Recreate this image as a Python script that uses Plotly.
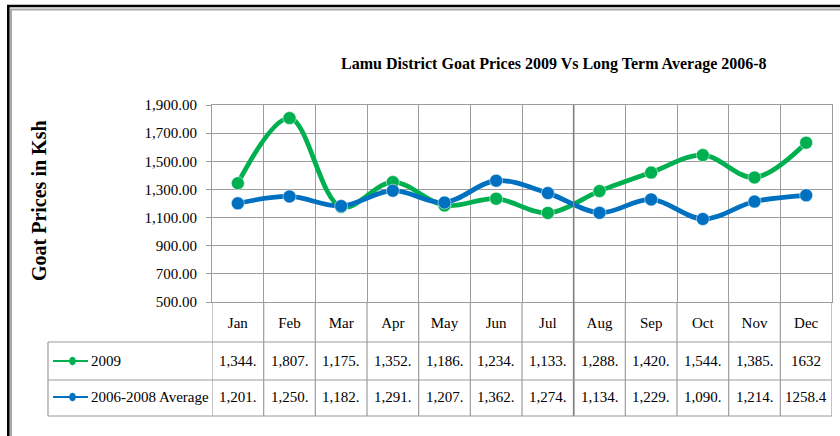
import plotly.graph_objects as go

# ---------------- data ----------------
months = ["Jan", "Feb", "Mar", "Apr", "May", "Jun",
          "Jul", "Aug", "Sep", "Oct", "Nov", "Dec"]
prices_2009 = [1344, 1807, 1175, 1352, 1186, 1234,
               1133, 1288, 1420, 1544, 1385, 1632]
prices_avg = [1201, 1250, 1182, 1291, 1207, 1362,
              1274, 1134, 1229, 1090, 1214, 1258.4]
labels_2009 = ["1,344.", "1,807.", "1,175.", "1,352.", "1,186.", "1,234.",
               "1,133.", "1,288.", "1,420.", "1,544.", "1,385.", "1632"]
labels_avg = ["1,201.", "1,250.", "1,182.", "1,291.", "1,207.", "1,362.",
              "1,274.", "1,134.", "1,229.", "1,090.", "1,214.", "1258.4"]
series_names = ["2009", "2006-2008 Average"]
y_ticks = [500, 700, 900, 1100, 1300, 1500, 1700, 1900]
chart_title = "Lamu District Goat Prices 2009 Vs Long Term Average 2006-8"
y_title = "Goat Prices in Ksh"

# ---------------- styling ----------------
GREEN = "#00B050"
BLUE = "#0070C0"
GRID = "#9c9c9c"
FONT = "Liberation Serif"
W, H = 840, 436
L, R, T, B = 212, 832, 105, 302  # plot area in pixels


def px(x):
    return (x - L) / (R - L)


def py(y):
    return (B - y) / (B - T)


fig = go.Figure()
for name, vals, col in [(series_names[0], prices_2009, GREEN),
                        (series_names[1], prices_avg, BLUE)]:
    fig.add_trace(go.Scatter(
        x=months, y=vals, name=name, mode="lines+markers",
        line=dict(color=col, width=4.8, shape="spline", smoothing=1),
        marker=dict(size=13, color=col, line=dict(width=1, color="rgba(255,255,255,0.5)")),
        cliponaxis=False, showlegend=False,
    ))

shapes = []
line_style = dict(color=GRID, width=1.2)
# table vertical lines (continuing category boundaries)
for k in range(len(months) + 1):
    shapes.append(dict(type="line", xref="x", yref="paper",
                       x0=k - 0.5, x1=k - 0.5, y0=0, y1=py(416),
                       line=line_style, layer="above"))
# darker boundary Jul|Aug
shapes.append(dict(type="line", xref="x", yref="paper", x0=6.5, x1=6.5,
                   y0=1, y1=py(416), line=dict(color="#808080", width=1.6)))
# table horizontal lines
for yy in [342, 380, 416]:
    shapes.append(dict(type="line", xref="paper", yref="paper",
                       x0=px(48), x1=1, y0=py(yy), y1=py(yy), line=line_style))
shapes.append(dict(type="line", xref="paper", yref="paper",
                   x0=px(48), x1=px(48), y0=py(342), y1=py(416), line=line_style))

# legend keys inside the table
for yy, col in [(361, GREEN), (397, BLUE)]:
    shapes.append(dict(type="line", xref="paper", yref="paper",
                       x0=px(53), x1=px(88), y0=py(yy), y1=py(yy),
                       line=dict(color=col, width=2.2)))
    shapes.append(dict(type="circle", xref="paper", yref="paper",
                       x0=px(69.5), x1=px(75.5), y0=py(yy - 4), y1=py(yy + 4),
                       fillcolor=col, line=dict(color=col, width=0.5)))

# outer frame (double border)
shapes += [
    dict(type="line", xref="paper", yref="paper", x0=px(7), x1=px(840),
         y0=py(6), y1=py(6), line=dict(color="black", width=2.6)),
    dict(type="line", xref="paper", yref="paper", x0=px(8.3), x1=px(8.3),
         y0=py(5), y1=py(436), line=dict(color="black", width=2.6)),
    dict(type="line", xref="paper", yref="paper", x0=px(10), x1=px(840),
         y0=py(9.5), y1=py(9.5), line=dict(color="#a8a8a8", width=2)),
    dict(type="line", xref="paper", yref="paper", x0=px(11), x1=px(11),
         y0=py(9), y1=py(436), line=dict(color="#a8a8a8", width=2)),
]

annotations = []
tfont = dict(family=FONT, size=15, color="black")
for i in range(len(months)):
    annotations.append(dict(x=months[i], xref="x", y=py(361), yref="paper",
                            text=labels_2009[i], showarrow=False, font=tfont,
                            xanchor="center", yanchor="middle"))
    annotations.append(dict(x=months[i], xref="x", y=py(397), yref="paper",
                            text=labels_avg[i], showarrow=False, font=tfont,
                            xanchor="center", yanchor="middle"))
for yy, name in [(361, series_names[0]), (397, series_names[1])]:
    annotations.append(dict(x=px(89), xref="paper", y=py(yy), yref="paper",
                            text=name, showarrow=False, font=tfont,
                            xanchor="left", yanchor="middle"))
annotations.append(dict(x=px(554), xref="paper", y=py(64), yref="paper",
                        text="<b>" + chart_title + "</b>", showarrow=False,
                        font=dict(family=FONT, size=16, color="black"),
                        xanchor="center", yanchor="middle"))
annotations.append(dict(x=px(39), xref="paper", y=py(201), yref="paper",
                        text="<b>" + y_title + "</b>", showarrow=False, textangle=-90,
                        font=dict(family=FONT, size=20, color="black"),
                        xanchor="center", yanchor="middle"))

fig.update_layout(
    width=W, height=H,
    margin=dict(l=L, r=W - R, t=T, b=H - B, pad=0),
    paper_bgcolor="white", plot_bgcolor="white",
    font=dict(family=FONT, size=15, color="black"),
    shapes=shapes, annotations=annotations,
    xaxis=dict(type="category", categoryorder="array", categoryarray=months,
               range=[-0.5, len(months) - 0.5], tickson="boundaries",
               showgrid=True, gridcolor=GRID, gridwidth=1.2,
               showline=True, mirror=True, linecolor=GRID, linewidth=1.2,
               ticks="", ticklabelstandoff=7,
               tickfont=dict(family=FONT, size=15, color="black"), zeroline=False),
    yaxis=dict(range=[500, 1900], tickvals=y_ticks, tickformat=",.2f",
               showgrid=True, gridcolor=GRID, gridwidth=1.2,
               showline=True, mirror=True, linecolor=GRID, linewidth=1.2,
               ticks="outside", ticklen=5, tickcolor=GRID, ticklabelstandoff=6,
               tickfont=dict(family=FONT, size=15, color="black"), zeroline=False),
)

fig.write_html("out.html", config={"displayModeBar": False},
               post_script="document.body.style.margin='0';")
